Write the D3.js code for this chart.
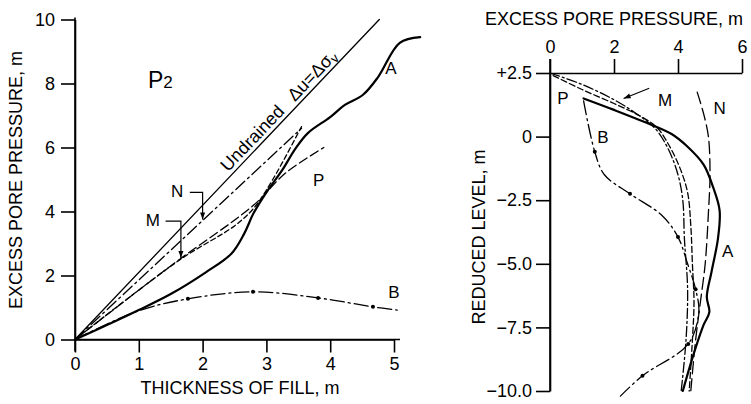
<!DOCTYPE html>
<html><head><meta charset="utf-8">
<script src="https://cdn.jsdelivr.net/npm/d3@7"></script>
<style>
html,body{margin:0;padding:0;background:#fff;}
svg{display:block;font-family:"Liberation Sans",Arial,Helvetica,sans-serif;}
</style></head>
<body>
<svg id="chart" width="751" height="404"></svg>
<script>
// ---------- data: left panel (excess pore pressure vs thickness of fill) ----------
const leftXTicks = [0,1,2,3,4,5];
const leftYTicks = [0,2,4,6,8,10];
const undrainedL = [[0,0],[4.77,10]];
const seriesA_L = [[0,0],[0.5,0.45],[1.0,0.92],[1.5,1.42],[2.05,2.1],[2.45,2.68],[2.65,3.3],[2.8,3.95],[3.0,4.6],[3.25,5.3],[3.45,5.95],[3.65,6.45],[4.0,6.95],[4.23,7.33],[4.51,7.64],[4.75,8.2],[5.09,9.27],[5.41,9.45]];
const seriesB_L = [[0,0],[1.0,0.9],[1.77,1.27],[2.79,1.49],[3.81,1.3],[4.67,1.02],[5.05,0.92]];
const seriesB_Ldots = [[1.77,1.27],[2.79,1.49],[3.81,1.3],[4.67,1.02]];
const seriesN_L = [[0,0],[3.55,6.6]];
const seriesM_L = [[0,0],[1.65,2.5],[2.5,3.55],[2.8,4.1],[3.1,5.0],[3.55,6.65]];
const seriesP_L = [[0,0],[1.5,2.3],[2.8,4.2],[3.3,5.2],[3.9,6.0]];

// ---------- data: right panel (reduced level vs excess pore pressure) ----------
const rightXTicks = [0,2,4,6];
const rightYTicks = [2.5,0,-2.5,-5,-7.5,-10];
const rightYLabels = ["+2.5","0","\u22122.5","\u22125.0","\u22127.5","\u221210.0"];
const seriesA_R = [[1.05,1.5],[2,1.05],[3,0.55],[3.8,0.1],[4.3,-0.4],[4.8,-1.1],[5.1,-2],[5.3,-2.9],[5.25,-4],[5.05,-5.3],[4.9,-6.3],[4.98,-6.9],[4.8,-7.4],[4.5,-8.5],[4.15,-10]];
const seriesP_R = [[0.1,2.4],[1,1.85],[2,1.3],[2.83,0.8],[3.35,0.35],[3.7,-0.3],[4.05,-1.2],[4.3,-2.2],[4.4,-3.5],[4.45,-5],[4.5,-6.5],[4.45,-8],[4.35,-10]];
const seriesM_R = [[0,2.5],[1,2.05],[2,1.45],[2.7,0.9],[3.3,0.3],[3.7,-0.5],[4.0,-1.5],[4.15,-2.5],[4.2,-4],[4.3,-6],[4.25,-8],[4.1,-10]];
const seriesN_R = [[4.6,1.75],[4.8,0.9],[4.95,0],[5.0,-1.5],[4.95,-3],[4.85,-5],[4.7,-6.5],[4.55,-8],[4.4,-10]];
const seriesB_R = [[1.05,1.4],[1.4,-0.6],[1.7,-1.5],[2.5,-2.25],[3.5,-3.1],[4.0,-3.95],[4.3,-5.0],[4.55,-6.0],[4.65,-6.9],[4.32,-8.15],[2.89,-9.4],[2.2,-10.2]];
const seriesB_Rdots = [[1.4,-0.6],[2.5,-2.25],[4.0,-3.95],[4.55,-6.0],[4.32,-8.15],[2.89,-9.4]];

const svg = d3.select("#chart");
const FS = 18;

// scales
const xL = d3.scaleLinear([0,5],[75,394]);
const yL = d3.scaleLinear([0,10],[339.5,19.5]);
const xR = d3.scaleLinear([0,6],[550,742]);
const yR = d3.scaleLinear([-10,2.5],[391,73]);

function styleAxis(g){
  g.selectAll("path,line").attr("stroke","#000").attr("stroke-width",1.6);
  g.selectAll("text").attr("fill","#000").style("font-size",FS+"px").style("font-family","'Liberation Sans',Arial,sans-serif");
}

// left axes
const gLX = svg.append("g").attr("transform",`translate(0,${yL(0)})`)
  .call(d3.axisBottom(xL).tickValues(leftXTicks).tickFormat(d3.format("d")).tickSize(13).tickSizeOuter(0).tickPadding(5));
styleAxis(gLX);
const gLY = svg.append("g").attr("transform",`translate(${xL(0)},0)`)
  .call(d3.axisLeft(yL).tickValues(leftYTicks).tickFormat(d3.format("d")).tickSize(14).tickSizeOuter(0).tickPadding(6));
styleAxis(gLY);
gLY.selectAll("text").attr("dy","0.35em");
svg.append("line").attr("x1",xL(0)).attr("x2",xL(5)+6).attr("y1",yL(0)).attr("y2",yL(0)).attr("stroke","#000").attr("stroke-width",1.6);
svg.append("line").attr("x1",xL(0)).attr("x2",xL(0)).attr("y1",yL(10)-2).attr("y2",yL(0)+12).attr("stroke","#000").attr("stroke-width",1.6);

// right axes
const gRX = svg.append("g").attr("transform",`translate(0,${yR(2.5)})`)
  .call(d3.axisTop(xR).tickValues(rightXTicks).tickFormat(d3.format("d")).tickSize(14).tickSizeOuter(0).tickPadding(6));
styleAxis(gRX);
const gRY = svg.append("g").attr("transform",`translate(${xR(0)},0)`)
  .call(d3.axisLeft(yR).tickValues(rightYTicks).tickFormat((d,i)=>rightYLabels[i]).tickSize(14).tickSizeOuter(0).tickPadding(4));
styleAxis(gRY);
svg.append("line").attr("x1",xR(0)).attr("x2",xR(0)).attr("y1",yR(2.5)-14).attr("y2",yR(-10)).attr("stroke","#000").attr("stroke-width",1.6);

// titles
svg.append("text").attr("x",240).attr("y",394).attr("text-anchor","middle").style("font-size",FS+"px").text("THICKNESS OF FILL, m");
svg.append("text").attr("transform","translate(22,180) rotate(-90)").attr("text-anchor","middle").style("font-size",FS+"px").text("EXCESS PORE PRESSURE, m");
svg.append("text").attr("x",614).attr("y",25).attr("text-anchor","middle").style("font-size",FS+"px").text("EXCESS PORE PRESSURE, m");
svg.append("text").attr("transform","translate(485,237) rotate(-90)").attr("text-anchor","middle").style("font-size",FS+"px").text("REDUCED LEVEL, m");

// P2
const p2 = svg.append("text").attr("x",148).attr("y",88).style("font-size","23px");
p2.append("tspan").text("P");
p2.append("tspan").style("font-size","17px").text("2");

function drawLine(data, xs, ys, opts){
  const line = d3.line().x(d=>xs(d[0])).y(d=>ys(d[1])).curve(opts.curve||d3.curveCatmullRom.alpha(0.5));
  svg.append("path").datum(data).attr("d",line).attr("fill","none").attr("stroke","#000")
    .attr("stroke-width",opts.w||1.3).attr("stroke-dasharray",opts.dash||null).attr("stroke-linecap","round").attr("stroke-linejoin","round");
}
function drawDots(data, xs, ys){
  svg.selectAll(null).data(data).enter().append("circle").attr("cx",d=>xs(d[0])).attr("cy",d=>ys(d[1])).attr("r",2).attr("fill","#000");
}

drawLine(undrainedL, xL, yL, {w:1.3, curve:d3.curveLinear});
drawLine(seriesA_L, xL, yL, {w:2.2});
drawLine(seriesB_L, xL, yL, {w:1.3, dash:"14,4,2,4"});
drawDots(seriesB_Ldots, xL, yL);
drawLine(seriesN_L, xL, yL, {w:1.3, dash:"12,4,2,4", curve:d3.curveLinear});
drawLine(seriesM_L, xL, yL, {w:1.3, dash:"5,3"});
drawLine(seriesP_L, xL, yL, {w:1.3, dash:"9,4"});

drawLine(seriesA_R, xR, yR, {w:2.2});
drawLine(seriesP_R, xR, yR, {w:1.3, dash:"6,3"});
drawLine(seriesM_R, xR, yR, {w:1.3, dash:"10,3,2,3"});
drawLine(seriesN_R, xR, yR, {w:1.3, dash:"12,5"});
drawLine(seriesB_R, xR, yR, {w:1.3, dash:"14,4,2,4"});
drawDots(seriesB_Rdots, xR, yR);

const ang = Math.atan2(yL(undrainedL[1][1])-yL(0), xL(undrainedL[1][0])-xL(0))*180/Math.PI;
const ut = svg.append("text").attr("transform",`translate(${xL(2.4)},${yL(2.4*10/4.77)-6}) rotate(${ang})`).style("font-size",FS+"px");
ut.append("tspan").text("Undrained\u2002 \u0394u=\u0394\u03c3");
ut.append("tspan").attr("dy","3").style("font-size","13px").text("v");

function label(t,x,y){ svg.append("text").attr("x",x).attr("y",y).attr("text-anchor","middle").style("font-size","17px").text(t); }
label("A", xL(4.95), yL(8.3));
label("B", xL(5.0), yL(1.3));
label("P", xL(3.82), yL(4.8));
label("N", xL(1.6), yL(4.45));
label("M", xL(1.22), yL(3.55));
label("P", xR(0.4), yR(1.3));
label("M", xR(3.6), yR(1.2));
label("N", xR(5.3), yR(0.9));
label("B", xR(1.65), yR(-0.25));
label("A", xR(5.55), yR(-4.75));

function arrowHead(x,y,dx,dy){
  const L=7, W=2.5, n=Math.hypot(dx,dy), ux=dx/n, uy=dy/n;
  svg.append("path").attr("d",`M${x},${y}L${x-ux*L-uy*W},${y-uy*L+ux*W}L${x-ux*L+uy*W},${y-uy*L-ux*W}Z`).attr("fill","#000");
}
function leader(pts){
  svg.append("path").attr("d",d3.line()(pts)).attr("fill","none").attr("stroke","#000").attr("stroke-width",1.2);
  const a=pts[pts.length-2], b=pts[pts.length-1];
  arrowHead(b[0],b[1],b[0]-a[0],b[1]-a[1]);
}
leader([[xL(1.8),yL(4.6)],[xL(2.0),yL(4.6)],[xL(2.0),yL(3.75)]]);
leader([[xL(1.42),yL(3.7)],[xL(1.66),yL(3.7)],[xL(1.66),yL(2.55)]]);
leader([[xR(3.1),yR(1.9)],[xR(2.3),yR(1.5)]]);
</script>
</body></html>
